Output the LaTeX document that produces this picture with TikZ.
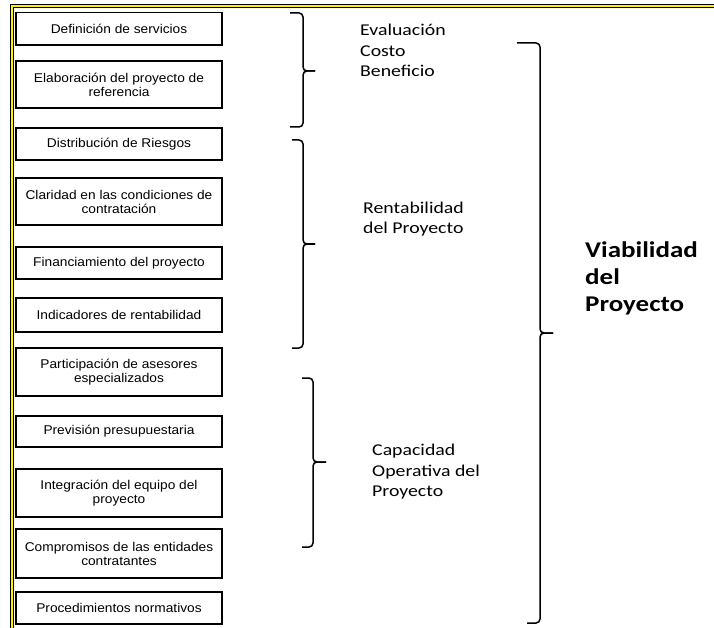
\documentclass[tikz,border=0pt]{standalone}
\usepackage{fontspec}
\setmainfont{Liberation Sans}[FakeStretch=1.08]
\newfontfamily\labfont{Carlito}[FakeStretch=1.2]
\usetikzlibrary{positioning}
\definecolor{frameyellow}{RGB}{255,242,0}

\begin{document}
\begin{tikzpicture}[x=1pt,y=-1pt,
                    box/.style={draw,line width=1.3pt,minimum width=206pt,inner sep=1pt,align=center,
                      font=\fontsize{12.7}{14}\selectfont},
                    lab/.style={anchor=base west,inner sep=0pt,align=left,
                      font=\labfont\fontsize{16.5}{20.5}\selectfont},
                    brk/.style={line width=1.5pt,rounded corners=4pt}
                   ]
  \useasboundingbox (0,0) rectangle (714,628);
  % marco amarillo
  \draw[line width=4pt] (11.5,628) -- (11.5,6.5) -- (714,6.5);
  \draw[frameyellow,line width=2pt] (11.5,628) -- (11.5,6.5) -- (714,6.5);

  % factores
  \node[box,minimum height=32.5pt] (a) at (119,28.75) {Definición de servicios};
  \node[box,minimum height=47pt] (b) at (119,84.5) {Elaboración del proyecto de\\referencia};
  \node[box,minimum height=32pt] (c) at (119,144) {Distribución de Riesgos};
  \node[box,minimum height=47pt] (d) at (119,201.5) {Claridad en las condiciones de\\contratación};
  \node[box,minimum height=32pt] (e) at (119,263) {Financiamiento del proyecto};
  \node[box,minimum height=34pt] (f) at (119,315) {Indicadores de rentabilidad};
  \node[box,minimum height=48pt] (g) at (119,372) {Participación de asesores\\especializados};
  \node[box,minimum height=31pt] (h) at (119,431.5) {Previsión presupuestaria};
  \node[box,minimum height=48pt] (i) at (119,493) {Integración del equipo del\\proyecto};
  \node[box,minimum height=49pt] (j) at (119,553.5) {Compromisos de las entidades\\contratantes};
  \node[box,minimum height=32pt] (k) at (119,608) {Procedimientos normativos};

  % llaves
  \draw[brk] (290,13) -| (303,71) -- (315,71);
  \draw[brk] (290,127) -| (303,71) -- (315,71);
  \draw[brk] (292,140) -| (303,244) -- (315,244);
  \draw[brk] (292,348) -| (303,244) -- (315,244);
  \draw[brk] (302,378) -| (313,462) -- (326,462);
  \draw[brk] (302,547) -| (313,462) -- (326,462);
  \draw[brk] (517,43) -| (540,333) -- (553,333);
  \draw[brk] (527,623) -| (540,333) -- (553,333);

  % grupos (base = ultima linea)
  \node[lab] (costo) at (360,76.7) {Evaluación\\Costo\\Beneficio};
  \node[lab] (renta) at (363,233.5) {Rentabilidad\\del Proyecto};
  \node[lab] (capac) at (372,496.7) {Capacidad\\Operativa del\\Proyecto};
  \node[lab,font=\labfont\bfseries\fontsize{22.5}{27}\selectfont] (viab) at (585,311.3)
       {Viabilidad\\del\\Proyecto};
\end{tikzpicture}
\end{document}
